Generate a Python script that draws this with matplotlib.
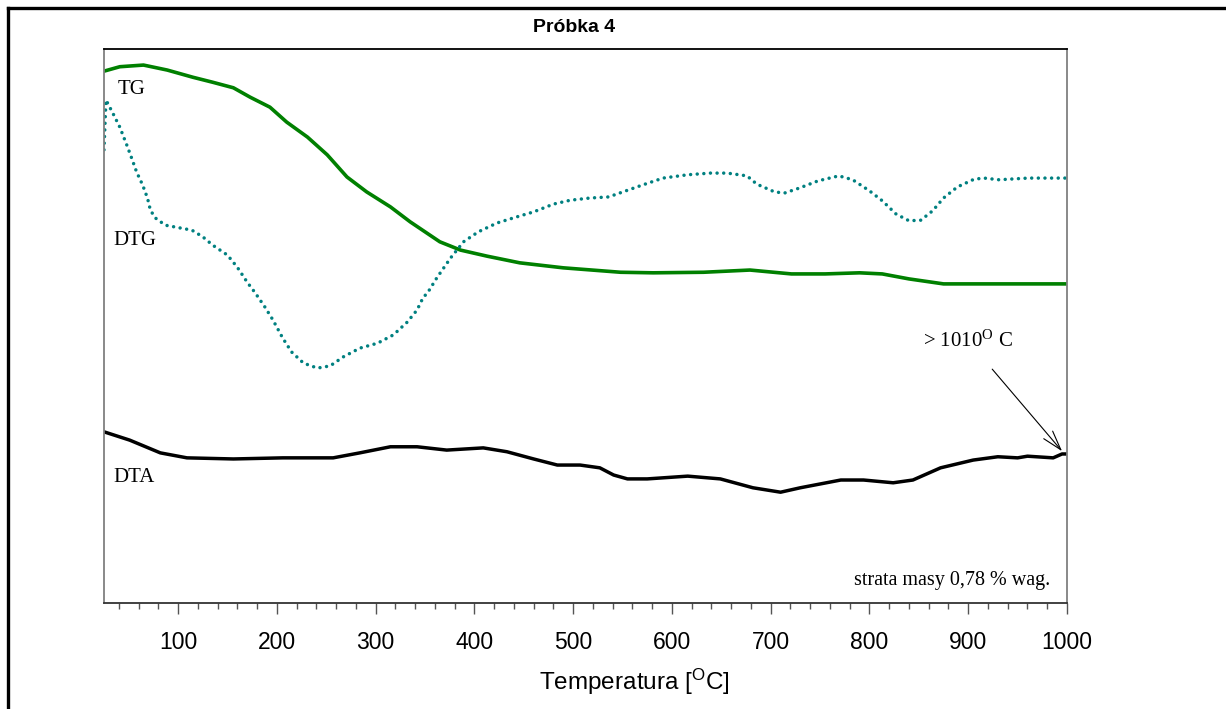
import numpy as np
import matplotlib
matplotlib.use('Agg')
import matplotlib.pyplot as plt
from matplotlib.lines import Line2D

# Data (temperature in C, signal in arbitrary units 0-100)

tg_temp = [25, 41, 65, 89, 115, 135, 156, 173, 193, 210, 231, 251, 271, 291, 315, 335,
           355, 365, 386, 413, 446, 490, 548, 581, 632, 679, 721, 755, 790, 813, 840,
           875, 909, 1000]
tg_val = [96.0, 96.8, 97.1, 96.2, 94.9, 94.0, 93.0, 91.3, 89.5, 86.8, 84.1, 80.9, 76.9,
          74.2, 71.5, 68.8, 66.4, 65.2, 63.7, 62.6, 61.4, 60.5, 59.7, 59.6, 59.7, 60.1,
          59.4, 59.4, 59.6, 59.4, 58.5, 57.6, 57.6, 57.6]

dtg_temp = [25, 27, 34, 41, 48, 53, 58, 64, 69, 72, 77, 87, 102, 114, 125, 135, 150, 160,
            170, 178, 188, 196, 206, 215, 227, 241, 254, 267, 284, 302, 318, 332, 342,
            348, 353, 362, 376, 389, 404, 423, 443, 460, 480, 497, 517, 536, 555, 571,
            591, 616, 639, 656, 676, 686, 704, 714, 729, 748, 769, 783, 800, 813, 827,
            840, 852, 864, 875, 889, 906, 916, 931, 961, 1000]
dtg_val = [81.8, 90.8, 88.4, 85.9, 82.7, 80.3, 77.8, 75.5, 73.1, 70.9,
           69.5, 68.2, 67.7, 67.3, 66.1, 64.6, 62.8, 60.6, 57.9, 56.0,
           53.4, 51.1, 47.8, 45.3, 43.3, 42.4, 42.8, 44.4, 46.0, 46.9,
           48.4, 50.7, 52.9, 55.1, 56.1, 58.7, 62.3, 65.2, 67.0, 68.6,
           69.7, 70.6, 72.0, 72.7, 73.1, 73.3, 74.5, 75.5, 76.7, 77.3,
           77.6, 77.6, 77.1, 75.6, 74.2, 74.0, 74.9, 76.2, 77.1, 76.4,
           74.4, 72.6, 70.2, 69.0, 69.1, 70.8, 73.1, 75.1, 76.5, 76.7,
           76.4, 76.7, 76.7]

dta_temp = [25, 51, 82, 109, 156, 206, 257, 284, 315, 342, 372, 409, 433, 460, 484, 507,
            527, 541, 555, 575, 616, 649, 682, 710, 730, 771, 794, 824, 844, 872, 905,
            930, 950, 960, 986, 995, 1000]
dta_val = [30.9, 29.4, 27.1, 26.2, 26.0, 26.2, 26.2, 27.1, 28.2, 28.2, 27.6, 28.0, 27.3,
           26.0, 24.9, 24.9, 24.4, 23.1, 22.4, 22.4, 22.9, 22.4, 20.8, 20.0, 20.8, 22.2,
           22.2, 21.7, 22.2, 24.4, 25.8, 26.4, 26.2, 26.5, 26.2, 26.9, 26.9]

x_ticks = [100, 200, 300, 400, 500, 600, 700, 800, 900, 1000]

serif = 'Liberation Serif'
sans = 'Liberation Sans'

fig = plt.figure(figsize=(12.26, 7.09), dpi=100)
ax = fig.add_axes([104/1226, 106/709, 963/1226, 554/709])

ax.plot(tg_temp, tg_val, color='#008000', lw=2.6, solid_joinstyle='round',
        solid_capstyle='round')
ax.plot(dtg_temp, dtg_val, color='#008080', lw=2.5, linestyle=(0, (0.01, 1.9)),
        dash_capstyle='round')
ax.plot(dta_temp, dta_val, color='black', lw=2.5, solid_joinstyle='round',
        solid_capstyle='round')

ax.set_xlim(25, 1000)
ax.set_ylim(0, 100)
ax.set_xticks(x_ticks)
ax.set_xticks(np.arange(40, 1000, 20), minor=True)
ax.set_yticks([])
ax.tick_params(axis='x', which='major', direction='out', length=8, width=1,
               color='#555555', pad=12, labelsize=16.5)
ax.tick_params(axis='x', which='minor', direction='out', length=4.5, width=1,
               color='#555555')
for lab in ax.get_xticklabels():
    lab.set_fontfamily(sans)

ax.spines['left'].set_color('#808080')
ax.spines['right'].set_color('#808080')
ax.spines['top'].set_color('black')
ax.spines['bottom'].set_color('#333333')
for s in ax.spines.values():
    s.set_linewidth(1.3)

ax.set_xlabel(r'Temperatura $\mathdefault{[^{O}C]}$', fontfamily=sans, fontsize=17.5)
ax.xaxis.set_label_coords(0.551, -0.115)

# curve labels
ax.text(39, 92.6, 'TG', fontfamily=serif, fontsize=15, va='center', ha='left')
ax.text(34, 65.5, 'DTG', fontfamily=serif, fontsize=15, va='center', ha='left')
ax.text(34, 22.6, 'DTA', fontfamily=serif, fontsize=15, va='center', ha='left')
ax.text(983, 4.0, 'strata masy 0,78 % wag.', fontfamily=serif, fontsize=14.5,
        va='center', ha='right')

ax.annotate(r'> $\mathdefault{1010^{O}}$ C', xy=(995, 27.4), xytext=(900, 47.3),
            fontfamily=serif, fontsize=15, ha='center', va='center',
            arrowprops=dict(arrowstyle='->,head_length=1.0,head_width=0.3',
                            color='black', lw=0.8, shrinkA=14, shrinkB=0,
                            mutation_scale=14))

fig.text(574/1226, 1 - 28/709, 'Próbka 4', fontfamily=sans, fontweight='bold',
         fontsize=14, ha='center', va='center')

# outer frame of the figure
fig.add_artist(Line2D([8/1226, 1.0], [1 - 8/709, 1 - 8/709], color='black', lw=2.4,
                      transform=fig.transFigure))
fig.add_artist(Line2D([8/1226, 8/1226], [0.0, 1 - 8/709], color='black', lw=2.4,
                      transform=fig.transFigure))

fig.savefig('out.png', dpi=100)
